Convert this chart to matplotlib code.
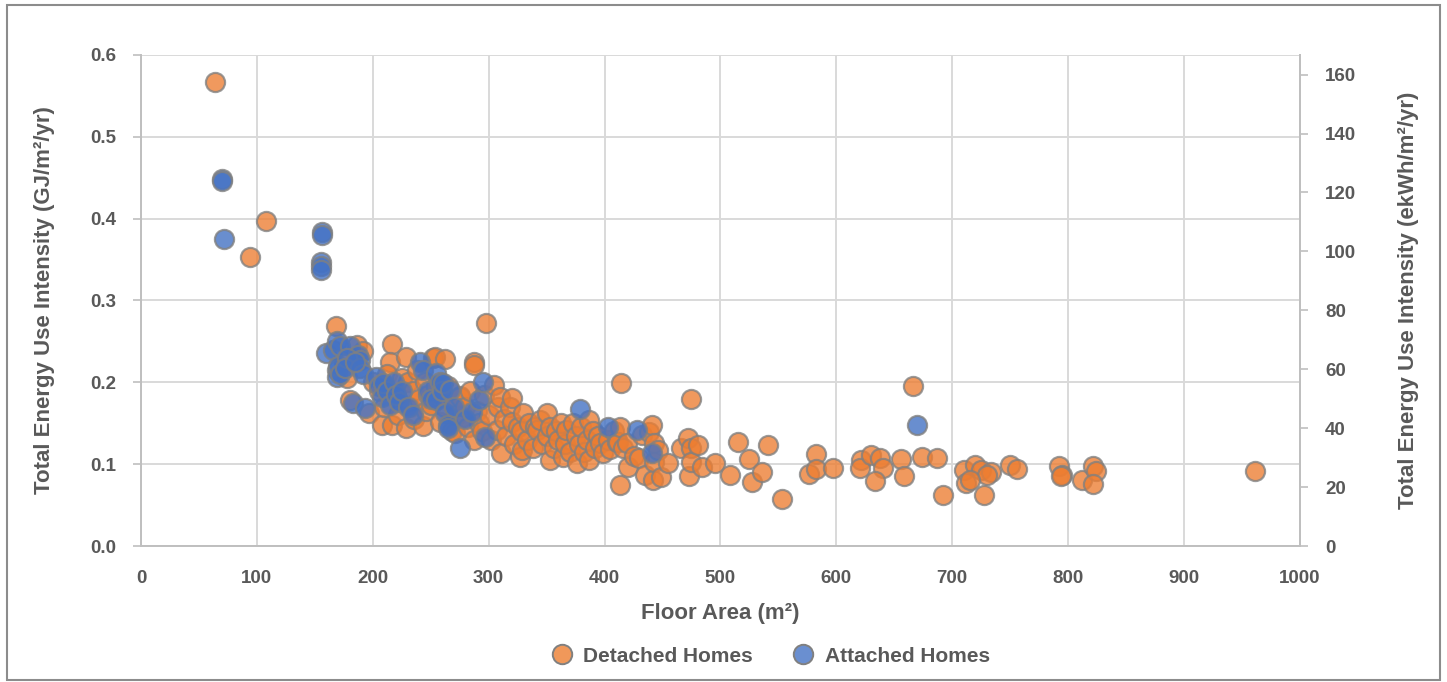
import matplotlib
matplotlib.use("Agg")
import matplotlib.pyplot as plt
from matplotlib.patches import Rectangle
from matplotlib.lines import Line2D

plt.rcParams['font.family'] = ['Liberation Sans', 'DejaVu Sans']
plt.rcParams['font.weight'] = 'bold'

# Detached homes: floor area (m2) and energy use intensity (GJ/m2/yr)
detached_area = [
    64, 108, 94,
    168, 186, 178, 180, 175, 192, 197, 200,
    208, 217, 217, 215, 205, 210, 212, 220, 222, 225, 229, 229, 230, 232,
    235, 236, 238, 240, 243, 245, 246, 248, 250, 252, 254, 255, 258, 260,
    262, 262,
    265, 268, 270, 271, 272, 275, 275, 278, 280, 282, 284, 287, 287, 287,
    290, 292, 294, 296, 298, 300, 302, 305, 307, 308, 310, 311, 313, 315,
    318, 320, 320, 322, 325, 327, 329, 330, 328,
    333, 335, 338, 340, 342, 344, 346, 350, 350, 353, 353, 356, 358, 360,
    362, 364, 366, 367, 370, 373, 375, 376, 378, 380, 382, 385, 387, 387,
    390, 392, 394, 396, 399,
    403, 405, 408, 411, 412, 413, 413, 414, 416, 419, 420, 425, 430, 432,
    435, 438, 441, 442, 443, 443, 446, 449, 455,
    466, 472, 473, 475, 475, 475, 481, 484, 495, 508, 515, 525, 527, 536,
    541, 553,
    582, 576, 582, 597, 621, 620, 630, 638, 640, 633, 656, 658, 666, 674,
    687, 692, 710, 720, 725, 712, 733, 730, 727, 715, 750, 756, 792, 795,
    794, 812, 821, 824, 821, 961,
]
detached_eui = [
    0.567, 0.397, 0.353,
    0.269, 0.246, 0.205, 0.178, 0.225, 0.238, 0.162, 0.200,
    0.148, 0.148, 0.247, 0.225, 0.190, 0.170, 0.210, 0.185, 0.160, 0.205, 0.231, 0.144, 0.200, 0.170,
    0.190, 0.155, 0.215, 0.180, 0.147, 0.200, 0.165, 0.185, 0.172, 0.230, 0.231, 0.195, 0.152, 0.185,
    0.229, 0.170,
    0.195, 0.140, 0.175, 0.138, 0.160, 0.183, 0.182, 0.158, 0.170, 0.145, 0.190, 0.225, 0.221, 0.130,
    0.165, 0.150, 0.140, 0.185, 0.272, 0.160, 0.130, 0.197, 0.142, 0.170, 0.182, 0.114, 0.155, 0.135,
    0.170, 0.181, 0.152, 0.125, 0.145, 0.109, 0.117, 0.163, 0.140,
    0.130, 0.150, 0.120, 0.145, 0.142, 0.154, 0.125, 0.163, 0.135, 0.146, 0.105, 0.120, 0.140, 0.130,
    0.150, 0.109, 0.125, 0.142, 0.115, 0.150, 0.135, 0.101, 0.125, 0.145, 0.115, 0.130, 0.154, 0.105,
    0.140, 0.120, 0.135, 0.126, 0.114,
    0.130, 0.118, 0.140, 0.127, 0.127, 0.146, 0.075, 0.199, 0.120, 0.126, 0.097, 0.110, 0.107, 0.136,
    0.087, 0.139, 0.148, 0.081, 0.126, 0.103, 0.117, 0.084, 0.101,
    0.120, 0.132, 0.086, 0.120, 0.103, 0.180, 0.123, 0.097, 0.101, 0.087, 0.127, 0.106, 0.078, 0.090,
    0.123, 0.057,
    0.112, 0.088, 0.094, 0.095, 0.105, 0.095, 0.111, 0.107, 0.095, 0.080, 0.106, 0.085, 0.196, 0.109,
    0.107, 0.062, 0.093, 0.099, 0.093, 0.077, 0.090, 0.087, 0.062, 0.081, 0.099, 0.094, 0.098, 0.087,
    0.085, 0.081, 0.098, 0.092, 0.076, 0.092,
]

# Attached homes
attached_area = [
    70, 70, 72, 156, 156, 155, 155, 155,
    160, 166, 169, 172, 180, 187, 189, 169, 169, 170, 172, 178, 176, 189,
    192, 185, 183, 193, 203, 205, 208, 209, 212, 215, 218, 220, 223, 225,
    230, 235, 241, 243, 248, 250, 255, 255, 258, 260, 262, 261, 265, 265,
    267, 270, 275, 280, 286, 292, 295, 297, 379, 403, 428, 441, 670,
]
attached_eui = [
    0.449, 0.446, 0.375, 0.384, 0.380, 0.347, 0.342, 0.337,
    0.236, 0.240, 0.250, 0.245, 0.244, 0.233, 0.227, 0.215, 0.206, 0.220, 0.210, 0.230, 0.218, 0.217,
    0.210, 0.225, 0.175, 0.169, 0.207, 0.195, 0.182, 0.199, 0.190, 0.172, 0.200, 0.185, 0.176, 0.190,
    0.170, 0.160, 0.225, 0.215, 0.190, 0.180, 0.211, 0.178, 0.200, 0.190, 0.162, 0.199, 0.148, 0.144,
    0.191, 0.170, 0.120, 0.155, 0.164, 0.178, 0.201, 0.133, 0.168, 0.145, 0.142, 0.114, 0.148,
]

GJ_TO_KWH = 1000 / 3.6
text_gray = '#595959'
grid_gray = '#D9D9D9'
axis_gray = '#BFBFBF'

fig = plt.figure(figsize=(14.47, 6.82), dpi=100)
ax = fig.add_axes([0.0974, 0.1994, 0.801, 0.72])

ax.scatter(detached_area, detached_eui, s=190, color='#ED7D31', alpha=0.78,
           edgecolors='#808080', linewidths=1.6, zorder=3)
ax.scatter(attached_area, attached_eui, s=190, color='#4472C4', alpha=0.8,
           edgecolors='#808080', linewidths=1.6, zorder=4)

ax.set_xlim(0, 1000)
ax.set_ylim(0, 0.6)
ax.set_xticks(range(0, 1001, 100))
ax.set_yticks([i / 10 for i in range(7)])
ax.set_yticklabels(['%.1f' % (i / 10) for i in range(7)])
ax.grid(True, color=grid_gray, linewidth=1.4, zorder=0)
ax.set_axisbelow(True)
ax.spines['top'].set_visible(False)
for side in ['left', 'bottom', 'right']:
    ax.spines[side].set_color(axis_gray)
    ax.spines[side].set_linewidth(1.4)
ax.tick_params(axis='y', colors=text_gray, labelsize=13.5, length=6, width=1.2,
               color=axis_gray, pad=12)
ax.tick_params(axis='x', colors=text_gray, labelsize=13.5, length=0, pad=17)

ax.set_ylabel('Total Energy Use Intensity (GJ/m²/yr)', fontsize=16,
              color=text_gray, fontweight='bold', labelpad=25)
ax.set_xlabel('Floor Area (m²)', fontsize=16, color=text_gray,
              fontweight='bold', labelpad=12)

# secondary axis in ekWh/m2/yr
ax2 = ax.twinx()
ax2.set_ylim(0, 0.6 * GJ_TO_KWH)
ax2.set_yticks(range(0, 161, 20))
for side in ['top', 'left', 'bottom']:
    ax2.spines[side].set_visible(False)
ax2.spines['right'].set_color(axis_gray)
ax2.spines['right'].set_linewidth(1.4)
ax2.tick_params(axis='y', colors=text_gray, labelsize=13.5, length=6, width=1.2,
                color=axis_gray, pad=12)
ax2.set_ylabel('Total Energy Use Intensity (ekWh/m²/yr)', fontsize=16,
               color=text_gray, fontweight='bold', labelpad=30)

handles = [
    Line2D([], [], marker='o', linestyle='', markersize=14, markerfacecolor='#F0985A',
           markeredgecolor='#808080', markeredgewidth=1.4, label='Detached Homes'),
    Line2D([], [], marker='o', linestyle='', markersize=14, markerfacecolor='#6A8FD0',
           markeredgecolor='#808080', markeredgewidth=1.4, label='Attached Homes'),
]
leg = fig.legend(handles=handles, loc='center', bbox_to_anchor=(0.529, 0.038), ncol=2,
                 frameon=False, handletextpad=0.05, columnspacing=1.4,
                 prop={'size': 15, 'weight': 'bold'})
for t in leg.get_texts():
    t.set_color(text_gray)

fig.patches.append(Rectangle((0.005, 0.003), 0.99, 0.99, transform=fig.transFigure,
                             fill=False, edgecolor='#8C8C8C', linewidth=1.5))

fig.savefig('out.png', dpi=100)
